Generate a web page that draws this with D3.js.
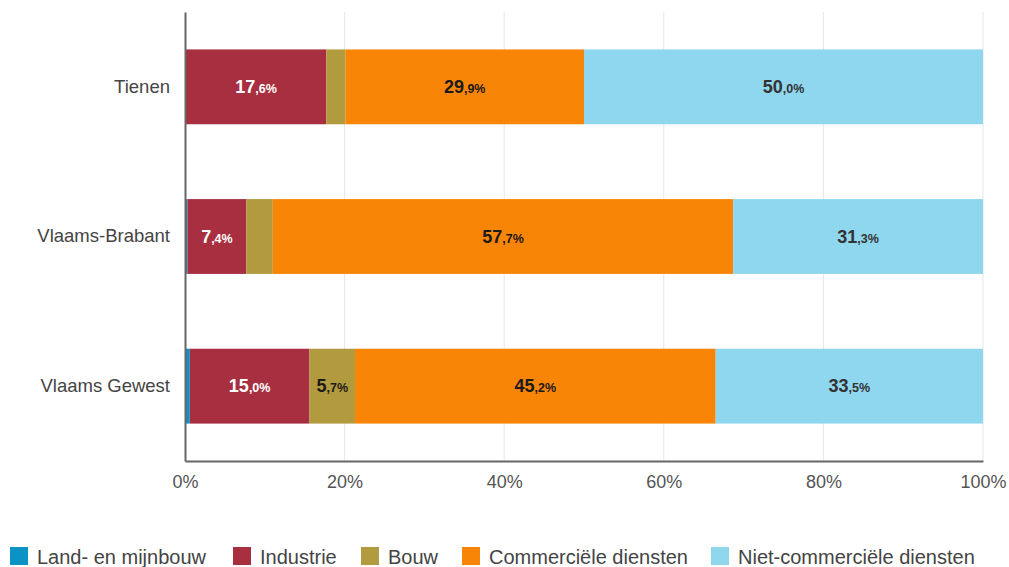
<!DOCTYPE html>
<html>
<head>
<meta charset="utf-8">
<script src="https://cdn.jsdelivr.net/npm/d3@7"></script>
<style>
  html, body { margin: 0; padding: 0; background: #fff; }
  svg { display: block; font-family: "Liberation Sans", Arial, sans-serif; }
</style>
</head>
<body>
<svg id="chart" width="1009" height="567"></svg>
<script>
// Share of employment per sector (%)
const regions = ["Tienen", "Vlaams-Brabant", "Vlaams Gewest"];
const sectors = ["Land- en mijnbouw", "Industrie", "Bouw", "Commerciële diensten", "Niet-commerciële diensten"];
const landMijnbouw = [0.1, 0.3, 0.6];
const industrie = [17.6, 7.4, 15.0];
const bouw = [2.4, 3.3, 5.7];
const commercieel = [29.9, 57.7, 45.2];
const nietCommercieel = [50.0, 31.3, 33.5];
const tickValues = [0, 20, 40, 60, 80, 100];

const colors = ["#0b93c5", "#a82f3f", "#b29a3f", "#f98507", "#8fd7ef"];
const labelColors = ["#fff", "#fff", "#1a1a1a", "#1a1a1a", "#333"];
const minLabelWidth = [99, 4, 4, 4, 4]; // label only segments wide enough (%)

const seriesValues = [landMijnbouw, industrie, bouw, commercieel, nietCommercieel];
const rows = regions.map((r, i) => {
  const o = { region: r };
  sectors.forEach((s, k) => { o[s] = seriesValues[k][i]; });
  return o;
});
const stacked = d3.stack().keys(sectors)(rows);

const svg = d3.select("#chart");
const margin = { left: 185, right: 26, top: 12, bottom: 106 };
const W = 1009, H = 567;

const x = d3.scaleLinear().domain([0, 100]).range([margin.left, W - margin.right]);
const y = d3.scaleBand().domain(regions).range([margin.top, H - margin.bottom]).paddingInner(0.5).paddingOuter(0.25);

// gridlines
svg.append("g")
  .selectAll("line")
  .data(tickValues.slice(1))
  .join("line")
  .attr("x1", d => x(d)).attr("x2", d => x(d))
  .attr("y1", margin.top).attr("y2", H - margin.bottom)
  .attr("stroke", "#e6e6e6").attr("stroke-width", 1);

// bars
const layers = svg.append("g")
  .selectAll("g")
  .data(stacked)
  .join("g")
  .attr("fill", (d, i) => colors[i]);

layers.selectAll("rect")
  .data(d => d)
  .join("rect")
  .attr("x", d => x(d[0]))
  .attr("width", d => x(d[1]) - x(d[0]))
  .attr("y", d => y(d.data.region))
  .attr("height", y.bandwidth());

// value labels: integer part large, decimal part small
stacked.forEach((layer, k) => {
  layer.forEach(d => {
    const v = d[1] - d[0];
    if (v < minLabelWidth[k]) return;
    const parts = v.toFixed(1).split(".");
    const t = svg.append("text")
      .attr("x", (x(d[0]) + x(d[1])) / 2)
      .attr("y", y(d.data.region) + y.bandwidth() / 2 + 6)
      .attr("text-anchor", "middle")
      .attr("fill", labelColors[k])
      .attr("font-weight", "bold")
      .attr("font-size", 18);
    t.append("tspan").text(parts[0]);
    t.append("tspan").attr("font-size", 12.5).text("," + parts[1] + "%");
  });
});

// axes
const xAxis = svg.append("g")
  .attr("transform", `translate(0,${H - margin.bottom})`)
  .call(d3.axisBottom(x).tickValues(tickValues).tickFormat(d => d + "%").tickSize(0).tickPadding(14));
xAxis.select(".domain").attr("stroke", "#666").attr("stroke-width", 2);
xAxis.selectAll("text").attr("font-size", 18).attr("fill", "#555").attr("font-family", "Liberation Sans, Arial, sans-serif");

const yAxis = svg.append("g")
  .attr("transform", `translate(${margin.left},0)`)
  .call(d3.axisLeft(y).tickSize(0).tickPadding(15));
yAxis.select(".domain").attr("stroke", "#666").attr("stroke-width", 2);
yAxis.selectAll("text").attr("font-size", 18.5).attr("fill", "#444").attr("font-family", "Liberation Sans, Arial, sans-serif");

// legend
const legendX = [10, 233, 361, 462, 711];
const legend = svg.append("g").selectAll("g")
  .data(sectors)
  .join("g")
  .attr("transform", (d, i) => `translate(${legendX[i]},547)`);
legend.append("rect").attr("width", 18).attr("height", 18).attr("fill", (d, i) => colors[i]);
legend.append("text")
  .attr("x", 27).attr("y", 17)
  .attr("font-size", 20).attr("fill", "#444")
  .text(d => d);
</script>
</body>
</html>
